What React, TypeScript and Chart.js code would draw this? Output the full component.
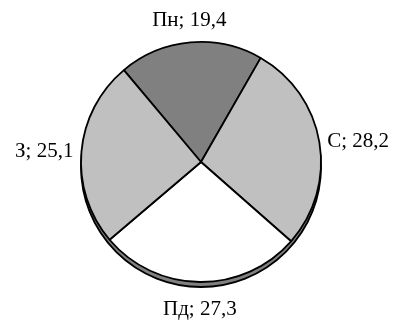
import React, { useEffect, useRef } from "react";
import { Chart, registerables } from "chart.js";

Chart.register(...registerables);

const labels = ["Пн", "С", "Пд", "З"];
const values = [19.4, 28.2, 27.3, 25.1];
const sliceColors = ["#808080", "#c0c0c0", "#ffffff", "#c0c0c0"];

const FONT = "21px 'Liberation Serif', 'Times New Roman', serif";
const SHADOW_DEPTH = 5;

const shadowPlugin = {
  id: "pieShadow",
  beforeDatasetsDraw(chart: any) {
    const meta = chart.getDatasetMeta(0);
    const arc: any = meta.data[0];
    if (!arc) return;
    const { x, y, outerRadius } = arc;
    const ctx = chart.ctx;
    ctx.save();
    ctx.beginPath();
    ctx.arc(x, y + SHADOW_DEPTH, outerRadius, 0, Math.PI * 2);
    ctx.fillStyle = "#808080";
    ctx.fill();
    ctx.lineWidth = 1.8;
    ctx.strokeStyle = "#000";
    ctx.stroke();
    ctx.restore();
  },
};

const labelPlugin = {
  id: "pieLabels",
  afterDatasetsDraw(chart: any) {
    const meta = chart.getDatasetMeta(0);
    const ctx = chart.ctx;
    ctx.save();
    ctx.font = FONT;
    ctx.fillStyle = "#000";
    meta.data.forEach((arc: any, i: number) => {
      const mid = (arc.startAngle + arc.endAngle) / 2;
      const c = Math.cos(mid);
      const s = Math.sin(mid);
      let align: CanvasTextAlign = "center";
      let base: CanvasTextBaseline = "middle";
      let gap = 8;
      if (c > 0.5) align = "left";
      else if (c < -0.5) align = "right";
      else {
        gap = s < 0 ? 12 : 12 + SHADOW_DEPTH;
        base = s < 0 ? "bottom" : "top";
      }
      const d = arc.outerRadius + gap;
      const px = arc.x + c * d;
      const py = arc.y + s * d;
      ctx.textAlign = align;
      ctx.textBaseline = base;
      const txt = `${labels[i]}; ${String(values[i]).replace(".", ",")}`;
      ctx.fillText(txt, px, py);
    });
    ctx.restore();
  },
};

export default function App() {
  const ref = useRef<HTMLCanvasElement | null>(null);
  useEffect(() => {
    if (!ref.current) return;
    const chart = new Chart(ref.current, {
      type: "pie",
      data: {
        labels,
        datasets: [
          {
            data: values,
            backgroundColor: sliceColors,
            borderColor: "#000",
            borderWidth: 1.8,
          },
        ],
      },
      options: {
        responsive: false,
        animation: false,
        rotation: -40,
        radius: 120,
        layout: { padding: { left: 60, right: 53, top: 40, bottom: 41 } },
        plugins: {
          legend: { display: false },
          tooltip: { enabled: false },
        },
      },
      plugins: [shadowPlugin, labelPlugin],
    });
    return () => chart.destroy();
  }, []);
  return (
    <div style={{ position: "absolute", left: 0, top: 0, width: 395, height: 325, background: "#fff" }}>
      <canvas ref={ref} width={395} height={325} />
    </div>
  );
}
